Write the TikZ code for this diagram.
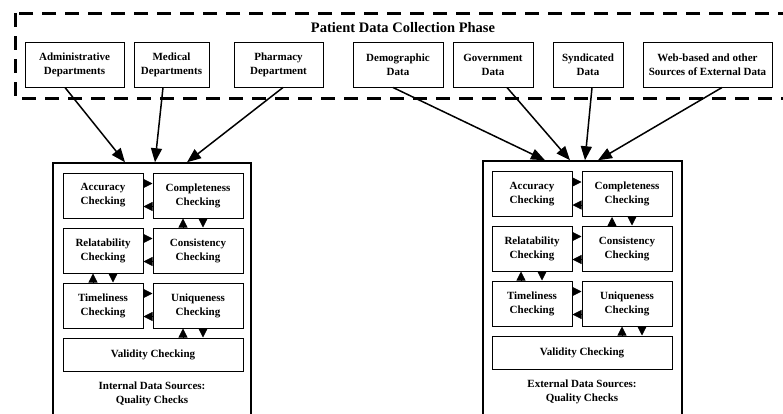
\documentclass[tikz,border=0pt]{standalone}
\usepackage{fontspec}
\setmainfont{Liberation Serif}
\usetikzlibrary{arrows.meta}
\begin{document}
\begin{tikzpicture}[x=1pt, y=-1pt,
        font=\fontsize{11}{14}\selectfont\bfseries,
        srcbox/.style={draw, line width=1pt, inner sep=0pt, align=center, minimum height=45pt},
        chkbox/.style={draw, line width=1pt, inner sep=0pt, align=center, minimum height=45pt},
        groupbox/.style={draw, line width=1.5pt, inner sep=0pt},
        feed/.style={line width=1.5pt, -{Triangle[length=14pt,width=11pt]}},
        link/.style={line width=0.8pt, -{Triangle[length=9pt,width=9pt]}}]
        \useasboundingbox (0,0) rectangle (783,413);

        % Collection phase frame
        \draw[line width=3pt, dash pattern=on 14pt off 9pt] (15,13) rectangle (790,98);
        \node (phase) at (403,28) {\fontsize{14.5}{16}\selectfont Patient Data Collection Phase};

        % Internal sources
        \node[srcbox, minimum width=99pt] (admin) at (74.5,64.5) {Administrative\\Departments};
        \node[srcbox, minimum width=75pt] (medical) at (171.5,64.5) {Medical\\Departments};
        \node[srcbox, minimum width=89pt] (pharmacy) at (278.5,64.5) {Pharmacy\\Department};

        % External sources
        \node[srcbox, minimum width=90pt] (demographic) at (398,64.5) {Demographic\\Data};
        \node[srcbox, minimum width=80pt] (government) at (493,64.5) {Government\\Data};
        \node[srcbox, minimum width=70pt] (syndicated) at (588,64.5) {Syndicated\\Data};
        \node[srcbox, minimum width=129pt] (web) at (707.5,64.5) {Web-based and other\\Sources of External Data};

        % Quality check groups
        \node[groupbox, minimum width=198pt, minimum height=253pt] (internal) at (152,289.5) {};
        \node[groupbox, minimum width=199pt, minimum height=255pt] (external) at (582.5,288.5) {};

        % Internal checks
        \node[chkbox, minimum width=80pt] (acc1) at (103,195.5) {Accuracy\\Checking};
        \node[chkbox, minimum width=90pt] (com1) at (198,195.5) {Completeness\\Checking};
        \node[chkbox, minimum width=80pt] (rel1) at (103,250.5) {Relatability\\Checking};
        \node[chkbox, minimum width=90pt] (con1) at (198,250.5) {Consistency\\Checking};
        \node[chkbox, minimum width=80pt] (tim1) at (103,305.5) {Timeliness\\Checking};
        \node[chkbox, minimum width=90pt] (uni1) at (198,305.5) {Uniqueness\\Checking};
        \node[chkbox, minimum width=180pt, minimum height=33pt] (val1) at (153,354.5) {Validity Checking};
        \node[align=center] (lab1) at (152,394) {Internal Data Sources:\\Quality Checks};

        % External checks
        \node[chkbox, minimum width=80pt] (acc2) at (532,194) {Accuracy\\Checking};
        \node[chkbox, minimum width=90pt] (com2) at (627,194) {Completeness\\Checking};
        \node[chkbox, minimum width=80pt] (rel2) at (532,248.5) {Relatability\\Checking};
        \node[chkbox, minimum width=90pt] (con2) at (627,248.5) {Consistency\\Checking};
        \node[chkbox, minimum width=80pt] (tim2) at (532,303.5) {Timeliness\\Checking};
        \node[chkbox, minimum width=90pt] (uni2) at (627,303.5) {Uniqueness\\Checking};
        \node[chkbox, minimum width=180pt, minimum height=33pt] (val2) at (582,352.5) {Validity Checking};
        \node[align=center] (lab2) at (582,391.5) {External Data Sources:\\Quality Checks};

        % Feeds into groups
        \draw[feed] ([xshift=-9.5pt]admin.south) -- ([xshift=-27pt]internal.north);
        \draw[feed] ([xshift=-8.5pt]medical.south) -- ([xshift=3pt]internal.north);
        \draw[feed] ([xshift=4.5pt]pharmacy.south) -- ([xshift=35pt]internal.north);

        \draw[feed] ([xshift=-5pt]demographic.south) -- ([xshift=-37.5pt]external.north);
        \draw[feed] ([xshift=14pt]government.south) -- ([xshift=-12.5pt]external.north);
        \draw[feed] ([xshift=4pt]syndicated.south) -- ([xshift=2.5pt]external.north);
        \draw[feed] ([xshift=14.5pt]web.south) -- ([xshift=15.5pt]external.north);

        % Internal check links
        \draw[link] ([yshift=12pt]acc1.east) -- ([yshift=12pt]com1.west);
        \draw[link] ([yshift=-11pt]com1.west) -- ([yshift=-11pt]acc1.east);
        \draw[link] ([yshift=12pt]rel1.east) -- ([yshift=12pt]con1.west);
        \draw[link] ([yshift=-11pt]con1.west) -- ([yshift=-11pt]rel1.east);
        \draw[link] ([yshift=12pt]tim1.east) -- ([yshift=12pt]uni1.west);
        \draw[link] ([yshift=-11pt]uni1.west) -- ([yshift=-11pt]tim1.east);
        \draw[link] ([xshift=-15pt]con1.north) -- ([xshift=-15pt]com1.south);
        \draw[link] ([xshift=5pt]com1.south) -- ([xshift=5pt]con1.north);
        \draw[link] ([xshift=-10pt]tim1.north) -- ([xshift=-10pt]rel1.south);
        \draw[link] ([xshift=10pt]rel1.south) -- ([xshift=10pt]tim1.north);
        \draw[link] ([xshift=-15pt]uni1.south |- val1.north) -- ([xshift=-15pt]uni1.south);
        \draw[link] ([xshift=5pt]uni1.south) -- ([xshift=5pt]uni1.south |- val1.north);

        % External check links
        \draw[link] ([yshift=12pt]acc2.east) -- ([yshift=12pt]com2.west);
        \draw[link] ([yshift=-11pt]com2.west) -- ([yshift=-11pt]acc2.east);
        \draw[link] ([yshift=12pt]rel2.east) -- ([yshift=12pt]con2.west);
        \draw[link] ([yshift=-11pt]con2.west) -- ([yshift=-11pt]rel2.east);
        \draw[link] ([yshift=12pt]tim2.east) -- ([yshift=12pt]uni2.west);
        \draw[link] ([yshift=-11pt]uni2.west) -- ([yshift=-11pt]tim2.east);
        \draw[link] ([xshift=-15pt]con2.north) -- ([xshift=-15pt]com2.south);
        \draw[link] ([xshift=5pt]com2.south) -- ([xshift=5pt]con2.north);
        \draw[link] ([xshift=-11pt]tim2.north) -- ([xshift=-11pt]rel2.south);
        \draw[link] ([xshift=10pt]rel2.south) -- ([xshift=10pt]tim2.north);
        \draw[link] ([xshift=-5pt]uni2.south |- val2.north) -- ([xshift=-5pt]uni2.south);
        \draw[link] ([xshift=15pt]uni2.south) -- ([xshift=15pt]uni2.south |- val2.north);
    \end{tikzpicture}
\end{document}
